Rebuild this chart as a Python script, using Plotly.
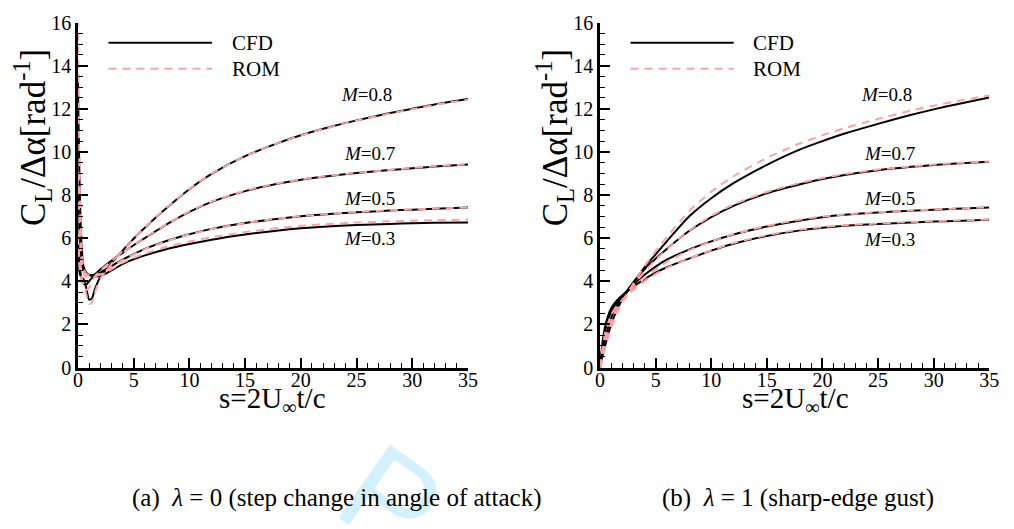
import plotly.graph_objects as go

# ---------------- data ----------------
mach_labels = ["0.3", "0.5", "0.7", "0.8"]

# (a) step change in angle of attack
s_a = [0, 0.1, 0.2, 0.35, 0.5, 0.75, 1.0, 1.25, 1.5, 2, 2.5, 3, 4, 5, 6, 8, 10,
       12, 15, 18, 20, 22, 25, 28, 30, 32, 35]
cfd_a_03 = [13.3, 10.0, 7.5, 5.5, 4.7, 4.4, 4.3, 4.25, 4.22, 4.25, 4.35, 4.5, 4.8, 5.02, 5.2, 5.5, 5.73,
            5.93, 6.17, 6.36, 6.46, 6.53, 6.61, 6.66, 6.69, 6.71, 6.73]
cfd_a_05 = [8.0, 6.8, 5.8, 4.9, 4.5, 4.35, 4.3, 4.28, 4.3, 4.4, 4.55, 4.7, 5.0, 5.26, 5.5, 5.88, 6.18,
            6.43, 6.7, 6.9, 7.01, 7.1, 7.2, 7.28, 7.32, 7.36, 7.42]
cfd_a_07 = [5.7, 5.0, 4.5, 4.1, 3.9, 3.85, 4.0, 4.15, 4.3, 4.55, 4.75, 4.95, 5.32, 5.67, 6.0, 6.65, 7.22,
            7.68, 8.18, 8.53, 8.71, 8.85, 9.02, 9.16, 9.24, 9.32, 9.42]
cfd_a_08 = [5.0, 4.6, 4.3, 4.15, 4.1, 3.7, 3.15, 3.2, 3.6, 4.2, 4.52, 4.83, 5.42, 5.97, 6.48, 7.42, 8.27,
            8.98, 9.8, 10.42, 10.77, 11.07, 11.46, 11.8, 12.0, 12.2, 12.45]
rom_a_03 = [16.2, 11.0, 7.6, 5.4, 4.6, 4.35, 4.3, 4.28, 4.27, 4.3, 4.4, 4.55, 4.85, 5.08, 5.28, 5.6, 5.84,
            6.04, 6.28, 6.47, 6.57, 6.64, 6.72, 6.78, 6.81, 6.83, 6.86]
rom_a_05 = [9.0, 7.2, 5.9, 4.8, 4.4, 4.2, 4.15, 4.15, 4.2, 4.35, 4.5, 4.67, 4.98, 5.25, 5.49, 5.87, 6.17,
            6.42, 6.7, 6.91, 7.02, 7.11, 7.21, 7.29, 7.33, 7.37, 7.42]
rom_a_07 = [6.2, 5.3, 4.6, 4.1, 3.8, 3.6, 3.7, 3.95, 4.2, 4.5, 4.72, 4.93, 5.31, 5.67, 6.01, 6.66, 7.24,
            7.7, 8.2, 8.55, 8.72, 8.86, 9.03, 9.16, 9.25, 9.33, 9.43]
rom_a_08 = [5.5, 4.9, 4.4, 4.1, 3.9, 3.4, 2.95, 3.0, 3.45, 4.1, 4.46, 4.8, 5.41, 5.97, 6.49, 7.43, 8.28,
            8.99, 9.8, 10.42, 10.76, 11.06, 11.45, 11.78, 11.98, 12.18, 12.42]

# (b) sharp-edge gust
s_b = [0, 0.25, 0.5, 1, 1.5, 2, 3, 4, 5, 6, 8, 10, 12, 15, 18, 20, 22, 25, 28, 30, 32, 35]
cfd_b_03 = [0, 1.3, 2.0, 2.75, 3.1, 3.35, 3.75, 4.1, 4.4, 4.65, 5.05, 5.42, 5.74, 6.1, 6.36, 6.48,
            6.57, 6.66, 6.73, 6.77, 6.8, 6.85]
cfd_b_05 = [0, 1.1, 1.8, 2.6, 3.0, 3.3, 3.85, 4.3, 4.68, 5.0, 5.47, 5.85, 6.17, 6.54, 6.82, 6.97,
            7.08, 7.19, 7.27, 7.32, 7.36, 7.42]
cfd_b_07 = [0, 0.8, 1.4, 2.3, 2.85, 3.25, 3.95, 4.55, 5.05, 5.5, 6.33, 6.98, 7.5, 8.08, 8.5, 8.74,
            8.93, 9.15, 9.31, 9.39, 9.46, 9.54]
cfd_b_08 = [0, 0.6, 1.1, 2.0, 2.65, 3.15, 3.95, 4.65, 5.25, 5.85, 7.0, 7.85, 8.55, 9.4, 10.12, 10.5,
            10.85, 11.3, 11.72, 11.97, 12.2, 12.52]
rom_b_03 = [0, 1.0, 1.7, 2.45, 2.85, 3.15, 3.6, 4.0, 4.34, 4.62, 5.05, 5.44, 5.77, 6.14, 6.4, 6.51,
            6.6, 6.68, 6.75, 6.79, 6.82, 6.86]
rom_b_05 = [0, 0.9, 1.5, 2.25, 2.7, 3.05, 3.65, 4.15, 4.55, 4.9, 5.43, 5.85, 6.18, 6.57, 6.86, 7.0,
            7.1, 7.2, 7.28, 7.33, 7.37, 7.43]
rom_b_07 = [0, 0.7, 1.25, 2.05, 2.6, 3.05, 3.8, 4.45, 5.0, 5.47, 6.35, 7.03, 7.56, 8.14, 8.56, 8.79,
            8.97, 9.18, 9.33, 9.41, 9.48, 9.55]
rom_b_08 = [0, 0.5, 1.0, 1.85, 2.5, 3.05, 3.9, 4.7, 5.4, 6.05, 7.25, 8.15, 8.87, 9.72, 10.4, 10.77,
            11.1, 11.53, 11.92, 12.14, 12.34, 12.62]

x_ticks = [0, 5, 10, 15, 20, 25, 30, 35]
y_ticks = [0, 2, 4, 6, 8, 10, 12, 14, 16]

# label positions (data units)
label_s_a = [26.2, 26.2, 26.2, 25.9]
label_v_a = [5.97, 7.84, 9.94, 12.66]
label_s_b = [26.0, 26.0, 26.0, 25.8]
label_v_b = [5.93, 7.84, 9.94, 12.66]

BLACK = "#000000"
PINK = "#ffa3a3"
FONT = "Liberation Serif, Times New Roman, serif"

fig = go.Figure()

panels = [
    ("x", "y", s_a, [cfd_a_03, cfd_a_05, cfd_a_07, cfd_a_08], [rom_a_03, rom_a_05, rom_a_07, rom_a_08], label_s_a, label_v_a),
    ("x2", "y2", s_b, [cfd_b_03, cfd_b_05, cfd_b_07, cfd_b_08], [rom_b_03, rom_b_05, rom_b_07, rom_b_08], label_s_b, label_v_b),
]

for xa, ya, s, cfds, roms, ls, lv in panels:
    for m, c in zip(mach_labels, cfds):
        fig.add_trace(go.Scatter(x=s, y=c, mode="lines", xaxis=xa, yaxis=ya,
                                 line=dict(color=BLACK, width=2, shape="spline", smoothing=0.6),
                                 name="CFD M=" + m, showlegend=False))
    for m, r in zip(mach_labels, roms):
        fig.add_trace(go.Scatter(x=s, y=r, mode="lines", xaxis=xa, yaxis=ya,
                                 line=dict(color=PINK, width=2, dash="8px,6px", shape="spline", smoothing=0.6),
                                 name="ROM M=" + m, showlegend=False))
    for m, xs, yv in zip(mach_labels, ls, lv):
        fig.add_annotation(x=xs, y=yv, xref=xa, yref=ya, text="<i>M</i>=" + m, showarrow=False,
                           xanchor="center", yanchor="middle",
                           font=dict(family=FONT, size=19, color=BLACK))
    # legend
    fig.add_shape(type="line", xref=xa, yref=ya, x0=2.74, x1=12.02, y0=15.06, y1=15.06,
                  line=dict(color=BLACK, width=2))
    fig.add_shape(type="line", xref=xa, yref=ya, x0=2.74, x1=12.02, y0=13.86, y1=13.86,
                  line=dict(color=PINK, width=2, dash="8px,6px"))
    fig.add_annotation(x=13.6, y=15.06, xref=xa, yref=ya, text="CFD", showarrow=False,
                       xanchor="left", yanchor="middle",
                       font=dict(family=FONT, size=21, color=BLACK))
    fig.add_annotation(x=13.6, y=13.86, xref=xa, yref=ya, text="ROM", showarrow=False,
                       xanchor="left", yanchor="middle",
                       font=dict(family=FONT, size=21, color=BLACK))

axis_common = dict(range=[0, 35], showgrid=False, zeroline=False, showline=True, linecolor=BLACK,
                   linewidth=2.5, ticks="inside", ticklen=10, tickwidth=1.5, tickcolor=BLACK,
                   tickvals=x_ticks, tickfont=dict(family=FONT, size=20, color=BLACK),
                   ticklabelstandoff=-7,
                   minor=dict(dtick=1, ticklen=5, tickwidth=1.2, tickcolor=BLACK, ticks="inside"),
                   fixedrange=True)
yaxis_common = dict(range=[0, 16], showgrid=False, zeroline=False, showline=True, linecolor=BLACK,
                    linewidth=2.5, ticks="inside", ticklen=10, tickwidth=1.5, tickcolor=BLACK,
                    tickvals=y_ticks, tickfont=dict(family=FONT, size=20, color=BLACK),
                    minor=dict(dtick=0.5, ticklen=5, tickwidth=1.2, tickcolor=BLACK, ticks="inside"),
                    fixedrange=True)

W, H = 1014, 529
def px_x(p):
    return p / W
def px_y(p):
    return 1 - p / H

fig.update_layout(
    width=W, height=H, margin=dict(l=0, r=0, t=0, b=0),
    paper_bgcolor="white", plot_bgcolor="white",
    font=dict(family=FONT, size=20, color=BLACK),
    xaxis=dict(axis_common, domain=[px_x(74), px_x(470)], anchor="y"),
    yaxis=dict(yaxis_common, domain=[px_y(372), px_y(12)], anchor="x"),
    xaxis2=dict(axis_common, domain=[px_x(604), px_x(999)], anchor="y2"),
    yaxis2=dict(yaxis_common, domain=[px_y(372), px_y(12)], anchor="x2"),
)

# watermark (faint)
fig.add_annotation(x=px_x(392), y=px_y(510), xref="paper", yref="paper", text="P", showarrow=False,
                   xanchor="center", yanchor="middle", textangle=35,
                   font=dict(family="Liberation Sans", size=130, color="#d3f0fd"))

# axis titles
for cx in (28, 558):
    fig.add_annotation(x=px_x(cx), y=px_y(132), xref="paper", yref="paper",
                       text="C<sub>L</sub>/Δα[rad<sup>-1</sup>]", showarrow=False, textangle=-90,
                       xanchor="center", yanchor="middle",
                       font=dict(family=FONT, size=35, color=BLACK))
for cx in (272, 802):
    fig.add_annotation(x=px_x(cx), y=px_y(406), xref="paper", yref="paper",
                       text="s=2U<sub>∞</sub>t/c", showarrow=False,
                       xanchor="center", yanchor="middle",
                       font=dict(family=FONT, size=29, color=BLACK))

# captions
fig.add_annotation(x=px_x(336), y=px_y(508), xref="paper", yref="paper",
                   text="(a)  <i>λ</i> = 0 (step change in angle of attack)", showarrow=False,
                   xanchor="center", yanchor="middle",
                   font=dict(family=FONT, size=25, color=BLACK))
fig.add_annotation(x=px_x(805), y=px_y(508), xref="paper", yref="paper",
                   text="(b)  <i>λ</i> = 1 (sharp-edge gust)", showarrow=False,
                   xanchor="center", yanchor="middle",
                   font=dict(family=FONT, size=25, color=BLACK))

fig.write_html("out.html")
